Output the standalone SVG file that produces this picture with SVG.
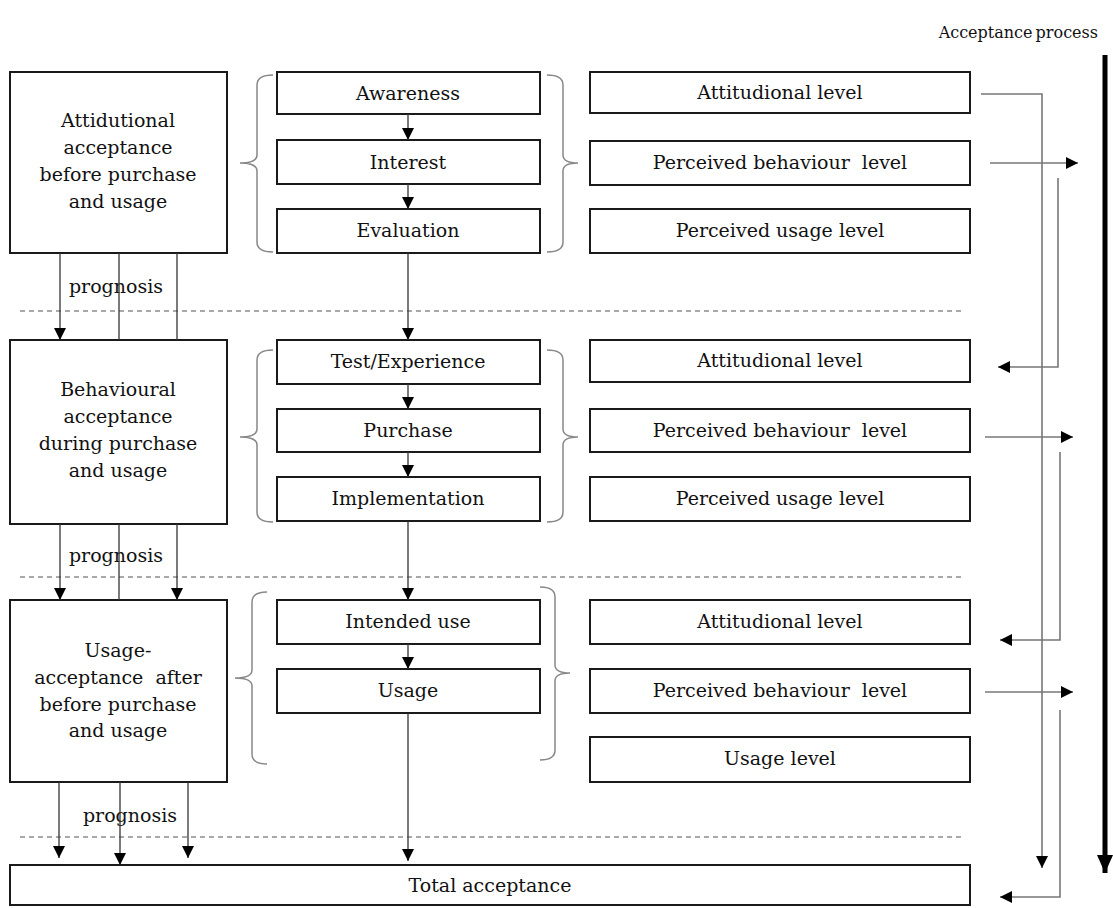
<svg xmlns="http://www.w3.org/2000/svg" width="1113" height="908" viewBox="0 0 1113 908">
  <style>
    .box { fill: #fff; stroke: #1a1a1a; stroke-width: 2; }
    .t { font-family: "DejaVu Serif", "Liberation Serif", serif; font-size: 19px; fill: #111; text-anchor: middle; white-space: pre; }
    .conn { fill: none; stroke: #333; stroke-width: 1.3; }
    .side { fill: none; stroke: #777; stroke-width: 1.6; }
    .brace { fill: none; stroke: #888; stroke-width: 1.5; }
    .dash { stroke: #555; stroke-width: 1.2; stroke-dasharray: 5 4; }
  </style>
  <defs>
    <marker id="ah" viewBox="0 0 12 12" refX="12" refY="6" markerWidth="12" markerHeight="12" markerUnits="userSpaceOnUse" orient="auto">
      <path d="M0,0 L12,6 L0,12 z" fill="#000"/>
    </marker>
    <marker id="ahBig" viewBox="0 0 18 16" refX="18" refY="8" markerWidth="18" markerHeight="16" markerUnits="userSpaceOnUse" orient="auto">
      <path d="M0,0 L18,8 L0,16 z" fill="#000"/>
    </marker>
  </defs>

  <rect width="1113" height="908" fill="#fff"/>

  <text class="t" x="1098" y="38" style="text-anchor:end;font-size:16px;word-spacing:-2px">Acceptance process</text>

  <!-- dashed phase separators -->
  <g id="separators">
    <line class="dash" x1="20" y1="311" x2="963" y2="311"/>
    <line class="dash" x1="20" y1="577" x2="963" y2="577"/>
    <line class="dash" x1="20" y1="837" x2="963" y2="837"/>
  </g>

  <!-- braces -->
  <g id="braces">
    <path class="brace" d="M273,75 Q257,75 257,85 V155 Q257,163 240,163 Q257,163 257,171 V242 Q257,252 273,252"/>
    <path class="brace" d="M547,75 Q563,75 563,85 V155 Q563,163 578,163 Q563,163 563,171 V242 Q563,252 547,252"/>
    <path class="brace" d="M273,350 Q257,350 257,360 V429 Q257,437 240,437 Q257,437 257,445 V512 Q257,522 273,522"/>
    <path class="brace" d="M547,350 Q563,350 563,360 V429 Q563,437 578,437 Q563,437 563,445 V512 Q563,522 547,522"/>
    <path class="brace" d="M267,592 Q252,592 252,602 V670 Q252,678 235,678 Q252,678 252,686 V754 Q252,764 267,764"/>
    <path class="brace" d="M540,587 Q555,587 555,597 V665 Q555,673 570,673 Q555,673 555,681 V750 Q555,760 540,760"/>
  </g>

  <!-- phase boxes -->
  <g id="phase-attitudinal">
    <rect class="box" x="10" y="72" width="217" height="181"/>
    <text class="t" x="118" y="127">Attidutional</text>
    <text class="t" x="118" y="154">acceptance</text>
    <text class="t" x="118" y="181">before purchase</text>
    <text class="t" x="118" y="208">and usage</text>
  </g>
  <g id="phase-behavioural">
    <rect class="box" x="10" y="340" width="217" height="184"/>
    <text class="t" x="118" y="396">Behavioural</text>
    <text class="t" x="118" y="423">acceptance</text>
    <text class="t" x="118" y="450">during purchase</text>
    <text class="t" x="118" y="477">and usage</text>
  </g>
  <g id="phase-usage">
    <rect class="box" x="10" y="600" width="217" height="182"/>
    <text class="t" x="118" y="657">Usage-</text>
    <text class="t" x="118" y="684">acceptance  after</text>
    <text class="t" x="118" y="711">before purchase</text>
    <text class="t" x="118" y="737">and usage</text>
  </g>
  <g id="total">
    <rect class="box" x="10" y="865" width="960" height="40"/>
    <text class="t" x="490" y="892">Total acceptance</text>
  </g>

  <!-- stage boxes -->
  <g id="stage-awareness"><rect class="box" x="277" y="72" width="263" height="42"/><text class="t" x="408" y="100">Awareness</text></g>
  <g id="stage-interest"><rect class="box" x="277" y="140" width="263" height="44"/><text class="t" x="408" y="169">Interest</text></g>
  <g id="stage-evaluation"><rect class="box" x="277" y="209" width="263" height="44"/><text class="t" x="408" y="237">Evaluation</text></g>
  <g id="stage-test"><rect class="box" x="277" y="340" width="263" height="44"/><text class="t" x="408" y="368">Test/Experience</text></g>
  <g id="stage-purchase"><rect class="box" x="277" y="409" width="263" height="43"/><text class="t" x="408" y="437">Purchase</text></g>
  <g id="stage-implementation"><rect class="box" x="277" y="477" width="263" height="44"/><text class="t" x="408" y="505">Implementation</text></g>
  <g id="stage-intended"><rect class="box" x="277" y="600" width="263" height="44"/><text class="t" x="408" y="628">Intended use</text></g>
  <g id="stage-usage"><rect class="box" x="277" y="669" width="263" height="44"/><text class="t" x="408" y="697">Usage</text></g>

  <!-- level boxes -->
  <g id="level-1a"><rect class="box" x="590" y="72" width="380" height="41"/><text class="t" x="780" y="99">Attitudional level</text></g>
  <g id="level-1b"><rect class="box" x="590" y="141" width="380" height="44"/><text class="t" x="780" y="169">Perceived behaviour  level</text></g>
  <g id="level-1c"><rect class="box" x="590" y="209" width="380" height="44"/><text class="t" x="780" y="237">Perceived usage level</text></g>
  <g id="level-2a"><rect class="box" x="590" y="340" width="380" height="42"/><text class="t" x="780" y="367">Attitudional level</text></g>
  <g id="level-2b"><rect class="box" x="590" y="409" width="380" height="43"/><text class="t" x="780" y="437">Perceived behaviour  level</text></g>
  <g id="level-2c"><rect class="box" x="590" y="477" width="380" height="44"/><text class="t" x="780" y="505">Perceived usage level</text></g>
  <g id="level-3a"><rect class="box" x="590" y="600" width="380" height="44"/><text class="t" x="780" y="628">Attitudional level</text></g>
  <g id="level-3b"><rect class="box" x="590" y="669" width="380" height="44"/><text class="t" x="780" y="697">Perceived behaviour  level</text></g>
  <g id="level-3c"><rect class="box" x="590" y="737" width="380" height="45"/><text class="t" x="780" y="765">Usage level</text></g>

  <!-- prognosis labels -->
  <g id="labels">
    <text class="t" x="116" y="293">prognosis</text>
    <text class="t" x="116" y="562">prognosis</text>
    <text class="t" x="130" y="822">prognosis</text>
  </g>

  <g id="connectors">
    <!-- stage flow -->
    <line class="conn" x1="408" y1="114" x2="408" y2="140" marker-end="url(#ah)"/>
    <line class="conn" x1="408" y1="184" x2="408" y2="209" marker-end="url(#ah)"/>
    <line class="conn" x1="408" y1="253" x2="408" y2="340" marker-end="url(#ah)"/>
    <line class="conn" x1="408" y1="384" x2="408" y2="409" marker-end="url(#ah)"/>
    <line class="conn" x1="408" y1="452" x2="408" y2="477" marker-end="url(#ah)"/>
    <line class="conn" x1="408" y1="521" x2="408" y2="600" marker-end="url(#ah)"/>
    <line class="conn" x1="408" y1="644" x2="408" y2="669" marker-end="url(#ah)"/>
    <line class="conn" x1="408" y1="713" x2="408" y2="861" marker-end="url(#ah)"/>

    <!-- prognosis links between phases -->
    <line class="conn" x1="60" y1="253" x2="60" y2="340" marker-end="url(#ah)"/>
    <line class="conn" x1="119" y1="253" x2="119" y2="340"/>
    <line class="conn" x1="177" y1="253" x2="177" y2="340"/>
    <line class="conn" x1="60" y1="524" x2="60" y2="600" marker-end="url(#ah)"/>
    <line class="conn" x1="119" y1="524" x2="119" y2="600"/>
    <line class="conn" x1="177" y1="524" x2="177" y2="600" marker-end="url(#ah)"/>
    <line class="conn" x1="59" y1="782" x2="59" y2="858" marker-end="url(#ah)"/>
    <line class="conn" x1="120" y1="782" x2="120" y2="865" marker-end="url(#ah)"/>
    <line class="conn" x1="188" y1="782" x2="188" y2="858" marker-end="url(#ah)"/>

    <!-- feedback on the right -->
    <path class="side" d="M981,94 H1042 V868" marker-end="url(#ah)"/>
    <path class="side" d="M990,163 H1078" marker-end="url(#ah)"/>
    <path class="side" d="M1058,178 V367 H998" marker-end="url(#ah)"/>
    <path class="side" d="M985,437 H1073" marker-end="url(#ah)"/>
    <path class="side" d="M1060,452 V640 H1000" marker-end="url(#ah)"/>
    <path class="side" d="M985,692 H1073" marker-end="url(#ah)"/>
    <path class="side" d="M1060,710 V897 H1000" marker-end="url(#ah)"/>

    <!-- overall process direction -->
    <line x1="1105" y1="55" x2="1105" y2="873" stroke="#000" stroke-width="5" marker-end="url(#ahBig)"/>
  </g>
</svg>
